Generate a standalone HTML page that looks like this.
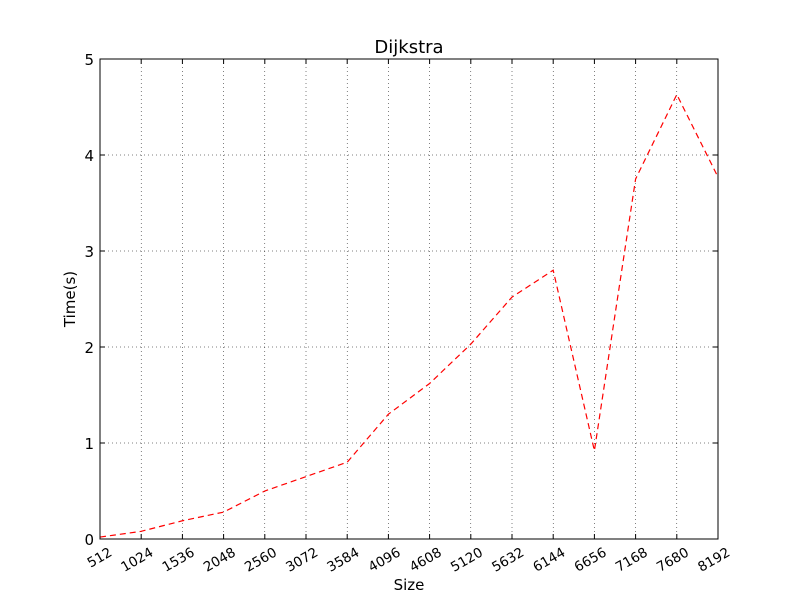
<!DOCTYPE html>
<html><head><meta charset="utf-8"><style>body{margin:0;background:#fff}svg{display:block;font-family:"DejaVu Sans","Liberation Sans",sans-serif}</style></head>
<body>
<svg id="chart" width="800" height="600">
<rect width="800" height="600" fill="#fff"/>
<g id="grid"></g>
<g id="ticks"></g>
<path id="line" fill="none" stroke="#ff0000" stroke-width="1.2" stroke-dasharray="6,4"/>
<rect x="100" y="59" width="618" height="480" fill="none" stroke="#000" stroke-width="1"/>
<text x="409" y="53" font-size="18" text-anchor="middle">Dijkstra</text>
<text x="409" y="590" font-size="15" text-anchor="middle">Size</text>
<text transform="translate(75,299) rotate(-90)" font-size="15" text-anchor="middle">Time(s)</text>
</svg>
<script>
const sizes=[512,1024,1536,2048,2560,3072,3584,4096,4608,5120,5632,6144,6656,7168,7680,8192];
const times=[0.02,0.08,0.19,0.28,0.5,0.65,0.8,1.3,1.62,2.03,2.52,2.8,0.92,3.75,4.63,3.77];
const yTicks=[0,1,2,3,4,5];
const NS="http://www.w3.org/2000/svg";
const X=v=>100+(v-512)/(8192-512)*618;
const Y=v=>539-v/5*480;
const grid=document.getElementById('grid'),ticks=document.getElementById('ticks');
function mk(tag,attrs,parent,txt){const e=document.createElementNS(NS,tag);for(const k in attrs)e.setAttribute(k,attrs[k]);if(txt!==undefined)e.textContent=txt;parent.appendChild(e);return e;}
sizes.forEach(s=>{const x=X(s);
 const g=mk('line',{x1:x,x2:x,y1:59,y2:539,stroke:'#000','stroke-width':0.5,'stroke-dasharray':'1,3'},grid);
 
 
 mk('line',{x1:x,x2:x,y1:539,y2:534,stroke:'#000'},ticks);
 mk('line',{x1:x,x2:x,y1:59,y2:64,stroke:'#000'},ticks);
 const t=mk('text',{x:x+13,y:555,'font-size':13.5,'text-anchor':'end',transform:`rotate(-30 ${x+13} 555)`},ticks,String(s));
 
 
});
yTicks.forEach(v=>{const y=Y(v);
 const g=mk('line',{x1:100,x2:718,y1:y,y2:y,stroke:'#000','stroke-width':0.5,'stroke-dasharray':'1,3'},grid);
 
 
 mk('line',{x1:100,x2:105,y1:y,y2:y,stroke:'#000'},ticks);
 mk('line',{x1:713,x2:718,y1:y,y2:y,stroke:'#000'},ticks);
 const t=mk('text',{x:94,y:y+6,'font-size':15,'text-anchor':'end'},ticks,String(v));
 
 
});
document.getElementById('line').setAttribute('d',sizes.map((s,i)=>(i?'L':'M')+X(s)+','+Y(times[i])).join(' '));
</script>
</body></html>
